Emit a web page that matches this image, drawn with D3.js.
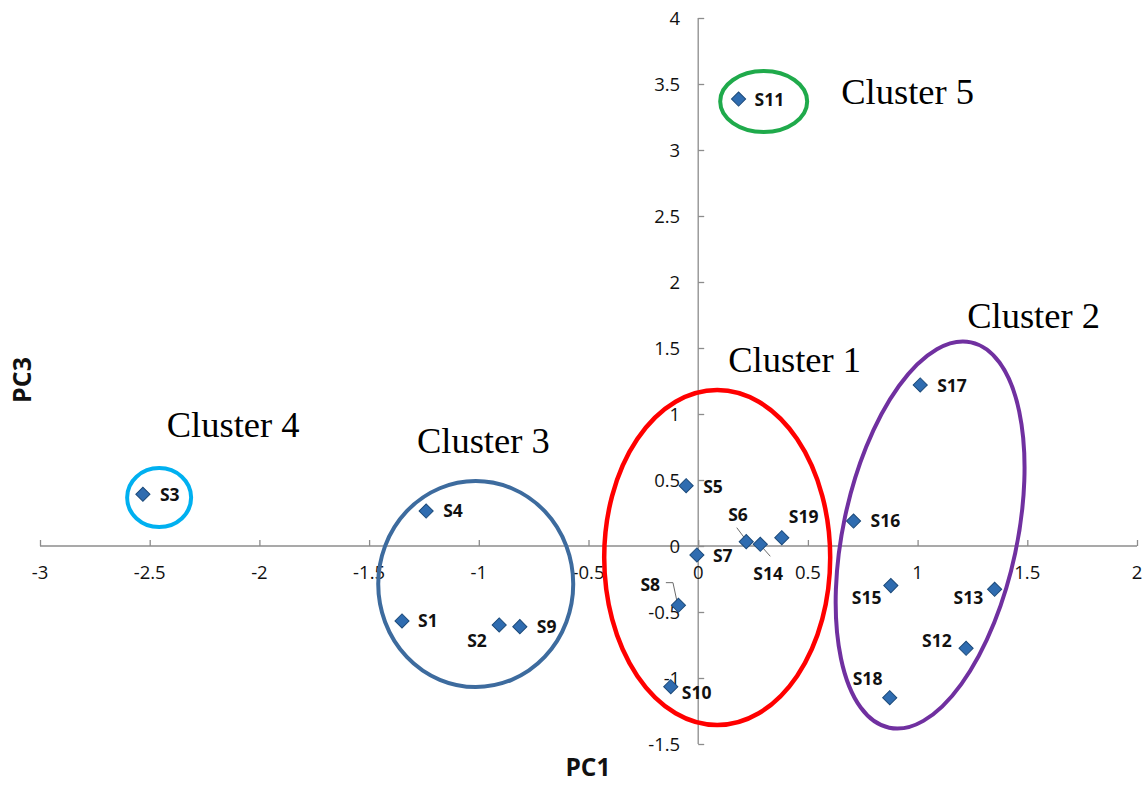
<!DOCTYPE html>
<html><head><meta charset="utf-8">
<script src="https://cdn.jsdelivr.net/npm/d3@7"></script>
<style>
html,body{margin:0;padding:0;background:#fff;}
svg{display:block;}
</style></head>
<body>
<svg id="chart" width="1146" height="785"></svg>
<script>
// ---- data ----
const samples = ["S1","S2","S3","S4","S5","S6","S7","S8","S9","S10","S11","S12","S13","S14","S15","S16","S17","S18","S19"];
const pc1 = [-1.35,-0.907,-2.531,-1.24,-0.055,0.219,-0.006,-0.09,-0.813,-0.125,0.184,1.221,1.351,0.283,0.878,0.708,1.012,0.873,0.381];
const pc3 = [-0.568,-0.598,0.392,0.265,0.457,0.033,-0.068,-0.449,-0.611,-1.066,3.386,-0.775,-0.328,0.013,-0.3,0.189,1.22,-1.149,0.063];
const xTicks = [-3,-2.5,-2,-1.5,-1,-0.5,0,0.5,1,1.5,2];
const yTicks = [-1.5,-1,-0.5,0,0.5,1,1.5,2,2.5,3,3.5,4];
const clusterNames = ["Cluster 1","Cluster 2","Cluster 3","Cluster 4","Cluster 5"];
const clusterCx = [0.0866,1.057,-1.014,-2.457,0.2985];
const clusterCy = [-0.087,0.083,-0.288,0.367,3.367];
const clusterLabelX = [0.137,1.226,-1.282,-2.4225,0.652];
const clusterLabelY = [1.320,1.652,0.707,0.826,3.352];

// ---- layout / style ----
const clusterStyle = [
  {color:"#ff0000", rx:113, ry:167.5, rot:0, w:4.5},
  {color:"#7030a0", rx:87, ry:197, rot:12, w:4},
  {color:"#3d6b9e", rx:97.5, ry:103, rot:0, w:4},
  {color:"#00b0f0", rx:32, ry:29.5, rot:0, w:4},
  {color:"#1faa4b", rx:43.5, ry:30.5, rot:0, w:4}
];
const labelOffset = {
  S1:[16,0],S2:[-32,16],S3:[17,0],S4:[17,0],S5:[17,1],S6:[-18,-27],S7:[16,1],S8:[-38,-21],
  S9:[17,0],S10:[11,6],S11:[16,1],S12:[-44,-8],S13:[-41,8],S14:[-7,29],S15:[-39,12],
  S16:[17,0],S17:[17,1],S18:[-37,-19],S19:[7,-21]
};
const leaders = {
  S6:[[-9.5,-14],[-2,-4]],
  S14:[[2,3],[10,12]],
  S8:[[-12.6,-22.6],[-5.5,-22.6],[-1.5,-4]]
};

const svg = d3.select("#chart");
const x = d3.scaleLinear().domain([-3,2]).range([40,1137]);
const y = d3.scaleLinear().domain([-1.5,4]).range([744,18]);

const axisColor = "#8c8c8c";
const tickFont = "'Open Sans', sans-serif";

// x axis (at y=0), ticks pointing up
const xAxis = d3.axisTop(x).tickValues(xTicks).tickSize(6).tickFormat("");
const gx = svg.append("g").attr("transform",`translate(0,${y(0)})`).call(xAxis);
gx.select(".domain").attr("stroke",axisColor).attr("stroke-width",1.3).attr("d",`M${x(-3)},0H${x(2)}`);
gx.selectAll(".tick line").attr("stroke",axisColor).attr("stroke-width",1.3);

// y axis (at x=0), ticks pointing right
const yAxis = d3.axisRight(y).tickValues(yTicks).tickSize(6).tickFormat("");
const gy = svg.append("g").attr("transform",`translate(${x(0)},0)`).call(yAxis);
gy.select(".domain").attr("stroke",axisColor).attr("stroke-width",1.3).attr("d",`M0,${y(4)}V${y(-1.5)}`);
gy.selectAll(".tick line").attr("stroke",axisColor).attr("stroke-width",1.3);

// tick labels
svg.append("g").selectAll("text").data(xTicks).join("text")
  .attr("x",d=>x(d)).attr("y",y(0)+33)
  .attr("text-anchor","middle")
  .attr("font-family",tickFont).attr("font-size",18.5).attr("fill","#111")
  .text(d=>String(d));
svg.append("g").selectAll("text").data(yTicks).join("text")
  .attr("x",x(0)-18).attr("y",d=>y(d)).attr("dy","0.36em")
  .attr("text-anchor","end")
  .attr("font-family",tickFont).attr("font-size",18.5).attr("fill","#111")
  .text(d=>String(d));

// axis titles
svg.append("text").attr("x",588).attr("y",776).attr("text-anchor","middle")
  .attr("font-family",tickFont).attr("font-weight","bold").attr("font-size",24.5).attr("fill","#111")
  .text("PC1");
svg.append("text").attr("transform","translate(31,380) rotate(-90)").attr("text-anchor","middle")
  .attr("font-family",tickFont).attr("font-weight","bold").attr("font-size",25).attr("fill","#111")
  .text("PC3");

// points data
const pts = samples.map((s,i)=>({name:s, x:pc1[i], y:pc3[i]}));

// leader lines
const line = d3.line();
svg.append("g").selectAll("path").data(pts.filter(p=>leaders[p.name])).join("path")
  .attr("d",p=>line(leaders[p.name].map(o=>[x(p.x)+o[0], y(p.y)+o[1]])))
  .attr("fill","none").attr("stroke","#6b6b6b").attr("stroke-width",1);

// markers
const sym = d3.symbol(d3.symbolSquare, 100);
svg.append("g").selectAll("path").data(pts).join("path")
  .attr("d",sym)
  .attr("transform",p=>`translate(${x(p.x)},${y(p.y)}) rotate(45)`)
  .attr("fill","#2f6cb0").attr("stroke","#1c4a7a").attr("stroke-width",1);

// point labels
svg.append("g").selectAll("text").data(pts).join("text")
  .attr("x",p=>x(p.x)+labelOffset[p.name][0])
  .attr("y",p=>y(p.y)+labelOffset[p.name][1])
  .attr("dy","0.36em")
  .attr("font-family",tickFont).attr("font-weight","bold").attr("font-size",17.5).attr("fill","#111")
  .text(p=>p.name);

// cluster ellipses
const clusters = clusterNames.map((n,i)=>({name:n, cx:clusterCx[i], cy:clusterCy[i], lx:clusterLabelX[i], ly:clusterLabelY[i], st:clusterStyle[i]}));
svg.append("g").selectAll("ellipse").data(clusters).join("ellipse")
  .attr("cx",0).attr("cy",0)
  .attr("rx",c=>c.st.rx).attr("ry",c=>c.st.ry)
  .attr("transform",c=>`translate(${x(c.cx)},${y(c.cy)}) rotate(${c.st.rot})`)
  .attr("fill","none").attr("stroke",c=>c.st.color).attr("stroke-width",c=>c.st.w);

// cluster labels
svg.append("g").selectAll("text").data(clusters).join("text")
  .attr("x",c=>x(c.lx)).attr("y",c=>y(c.ly))
  .attr("font-family","'Liberation Serif','Times New Roman',serif").attr("font-size",36.5).attr("fill","#000")
  .text(c=>c.name);
</script>
</body></html>
